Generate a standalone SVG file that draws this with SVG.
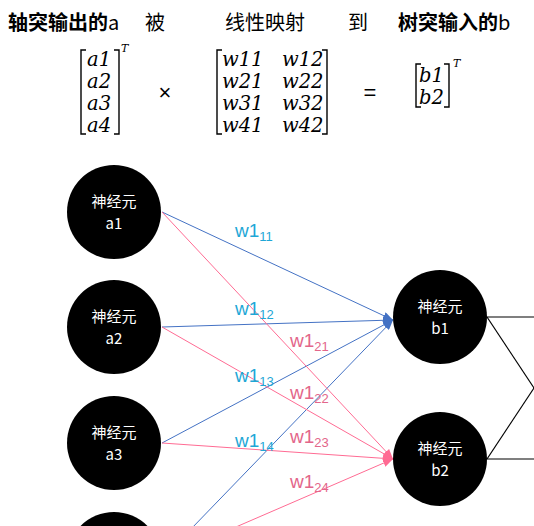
<svg xmlns="http://www.w3.org/2000/svg" width="534" height="526" viewBox="0 0 534 526">
<defs>
<style>
.hd{font-family:"Noto Sans CJK SC","Liberation Sans",sans-serif;font-size:20px;fill:#000}
.b{font-weight:bold}
.m{font-family:"DejaVu Serif","Liberation Serif",serif;font-style:italic;font-size:19.5px;fill:#000}
.sup{font-family:"DejaVu Serif","Liberation Serif",serif;font-style:italic;font-size:11px;fill:#000}
.op{font-family:"Liberation Sans",sans-serif;font-size:22px;fill:#000}
.br{fill:none;stroke:#000;stroke-width:1.4}
.node{fill:#000}
.nt{font-family:"Noto Sans CJK SC","Liberation Sans",sans-serif;font-size:15px;fill:#fff;text-anchor:middle}
.eb{stroke:#4472C4;stroke-width:1;fill:none}
.ep{stroke:#FF6B93;stroke-width:1;fill:none}
.ek{stroke:#000;stroke-width:1.2;fill:none}
.lb{font-family:"Liberation Sans",sans-serif;font-size:19px;fill:#1FA7D6}
.lp{font-family:"Liberation Sans",sans-serif;font-size:19px;fill:#E3668A}
.sub{font-size:13px}
</style>
<marker id="ab" markerWidth="10" markerHeight="8" refX="10" refY="4" orient="auto" markerUnits="userSpaceOnUse"><path d="M0,0 L10,4 L0,8 z" fill="#4472C4"/></marker>
<marker id="ap" markerWidth="10" markerHeight="8" refX="10" refY="4" orient="auto" markerUnits="userSpaceOnUse"><path d="M0,0 L10,4 L0,8 z" fill="#FF6B93"/></marker>
</defs>
<rect width="534" height="526" fill="#fff"/>

<g id="header">
<text class="hd b" x="8" y="30">轴突输出的<tspan font-weight="normal">a</tspan></text>
<text class="hd" x="145" y="30">被</text>
<text class="hd" x="225" y="30">线性映射</text>
<text class="hd" x="348" y="30">到</text>
<text class="hd b" x="398" y="30">树突输入的<tspan font-weight="normal">b</tspan></text>
</g>

<g id="matrix-a">
<path class="br" d="M86,50 H81 V134 H86"/>
<path class="br" d="M114,50 H119 V134 H114"/>
<text class="m" x="87" y="66">a1</text>
<text class="m" x="87" y="88">a2</text>
<text class="m" x="87" y="110">a3</text>
<text class="m" x="87" y="132">a4</text>
<text class="sup" x="121" y="52">T</text>
</g>
<text id="times" class="op" x="165" y="100" text-anchor="middle">×</text>
<g id="matrix-w">
<path class="br" d="M222,50 H217 V134 H222"/>
<path class="br" d="M322,50 H327 V134 H322"/>
<text class="m" x="222" y="66">w11</text><text class="m" x="282" y="66">w12</text>
<text class="m" x="222" y="88">w21</text><text class="m" x="282" y="88">w22</text>
<text class="m" x="222" y="110">w31</text><text class="m" x="282" y="110">w32</text>
<text class="m" x="222" y="132">w41</text><text class="m" x="282" y="132">w42</text>
</g>
<text id="equals" class="op" x="370" y="100" text-anchor="middle">=</text>
<g id="matrix-b">
<path class="br" d="M421,64 H416 V107 H421"/>
<path class="br" d="M444,64 H449 V107 H444"/>
<text class="m" x="419" y="82">b1</text>
<text class="m" x="419" y="104">b2</text>
<text class="sup" x="453" y="67">T</text>
</g>

<g id="connectors">
<line class="eb" x1="162" y1="212" x2="393" y2="320" marker-end="url(#ab)"/>
<line class="eb" x1="162" y1="327" x2="393" y2="320" marker-end="url(#ab)"/>
<line class="eb" x1="162" y1="443" x2="393" y2="320" marker-end="url(#ab)"/>
<line class="eb" x1="162" y1="559" x2="393" y2="320" marker-end="url(#ab)"/>
<line class="ep" x1="162" y1="212" x2="393" y2="459" marker-end="url(#ap)"/>
<line class="ep" x1="162" y1="327" x2="393" y2="459" marker-end="url(#ap)"/>
<line class="ep" x1="162" y1="443" x2="393" y2="459" marker-end="url(#ap)"/>
<line class="ep" x1="162" y1="559" x2="393" y2="459" marker-end="url(#ap)"/>
<line class="ek" x1="487" y1="317" x2="534" y2="317"/>
<line class="ek" x1="487" y1="317" x2="534" y2="388"/>
<line class="ek" x1="487" y1="459" x2="534" y2="459"/>
<line class="ek" x1="487" y1="459" x2="534" y2="388"/>
</g>

<g id="labels">
<text class="lb" x="235" y="237">w1<tspan class="sub" dy="4">11</tspan></text>
<text class="lb" x="235" y="315">w1<tspan class="sub" dy="4">12</tspan></text>
<text class="lb" x="235" y="382">w1<tspan class="sub" dy="4">13</tspan></text>
<text class="lb" x="235" y="447">w1<tspan class="sub" dy="4">14</tspan></text>
<text class="lp" x="290" y="347">w1<tspan class="sub" dy="4">21</tspan></text>
<text class="lp" x="290" y="399">w1<tspan class="sub" dy="4">22</tspan></text>
<text class="lp" x="290" y="443">w1<tspan class="sub" dy="4">23</tspan></text>
<text class="lp" x="290" y="488">w1<tspan class="sub" dy="4">24</tspan></text>
</g>

<g id="a1"><circle class="node" cx="114" cy="212" r="47"/><text class="nt" x="114" y="207">神经元</text><text class="nt" x="114" y="229">a1</text></g>
<g id="a2"><circle class="node" cx="114" cy="327" r="47"/><text class="nt" x="114" y="322">神经元</text><text class="nt" x="114" y="344">a2</text></g>
<g id="a3"><circle class="node" cx="114" cy="443" r="47"/><text class="nt" x="114" y="438">神经元</text><text class="nt" x="114" y="460">a3</text></g>
<g id="a4"><circle class="node" cx="114" cy="559" r="47"/></g>
<g id="b1"><circle class="node" cx="440" cy="317" r="47"/><text class="nt" x="440" y="312">神经元</text><text class="nt" x="440" y="334">b1</text></g>
<g id="b2"><circle class="node" cx="440" cy="459" r="47"/><text class="nt" x="440" y="454">神经元</text><text class="nt" x="440" y="476">b2</text></g>
</svg>
